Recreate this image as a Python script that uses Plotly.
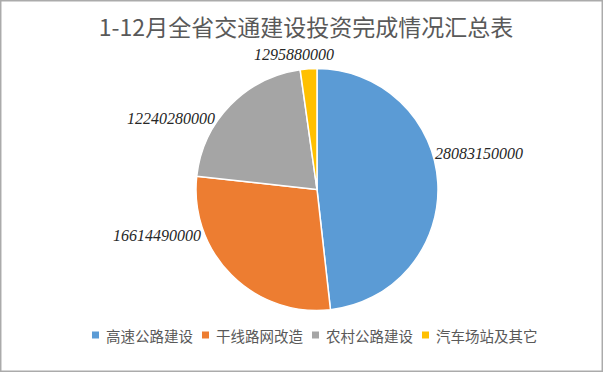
import plotly.graph_objects as go

categories = ["高速公路建设", "干线路网改造", "农村公路建设", "汽车场站及其它"]
values = [28083150000, 16614490000, 12240280000, 1295880000]
colors = ["#5B9BD5", "#ED7D31", "#A5A5A5", "#FFC000"]
title_text = "1-12月全省交通建设投资完成情况汇总表"

W, H = 603, 372
cx, cy, r = 317, 189.5, 121

# data-label placement (pixel centres, Excel "best fit" style)
label_pos = [(478.5, 153), (156.5, 235), (170.5, 119), (293.5, 55)]

fig = go.Figure(go.Pie(
    labels=categories,
    values=values,
    textinfo="none",
    marker=dict(colors=colors, line=dict(color="white", width=1.5)),
    sort=False,
    direction="clockwise",
    rotation=0,
    showlegend=False,
    domain=dict(x=[(cx - r) / W, (cx + r) / W], y=[(H - cy - r) / H, (H - cy + r) / H]),
    hoverinfo="label+value",
))

shapes = [dict(type="rect", xref="paper", yref="paper", x0=0.0012, x1=0.9988, y0=0.002, y1=0.998,
               line=dict(color="#ABABAB", width=1.5))]
annotations = []

for v, (px, py) in zip(values, label_pos):
    annotations.append(dict(text=str(v), xref="paper", yref="paper", x=px / W, y=1 - py / H,
                            xanchor="center", yanchor="middle", showarrow=False,
                            font=dict(family="Liberation Serif", size=16, color="#262626", style="italic")))

# compact legend like the original: small square + label
legend_y = 1 - 335 / H
sq = 7
x = 92
font_px = 14.5
for name, col in zip(categories, colors):
    shapes.append(dict(type="rect", xref="paper", yref="paper",
                       x0=x / W, x1=(x + sq) / W,
                       y0=legend_y - sq / 2 / H, y1=legend_y + sq / 2 / H,
                       line=dict(width=0), fillcolor=col))
    annotations.append(dict(text=name, xref="paper", yref="paper", x=(x + sq + 5) / W, y=legend_y,
                            xanchor="left", yanchor="middle", showarrow=False,
                            font=dict(family="Noto Sans CJK SC", size=font_px, color="#595959")))
    x += sq + 5 + len(name) * font_px + 11

fig.update_layout(
    width=W, height=H,
    margin=dict(l=0, r=0, t=0, b=0),
    paper_bgcolor="white",
    title=dict(text=title_text, x=306 / W, xanchor="center", y=1 - 28 / H, yanchor="middle",
               font=dict(family="Noto Sans CJK SC", size=23, color="#595959")),
    shapes=shapes,
    annotations=annotations,
)

fig.write_html("out.html", config={"displayModeBar": False},
               post_script="document.body.style.margin='0px';document.body.style.overflow='hidden';")
